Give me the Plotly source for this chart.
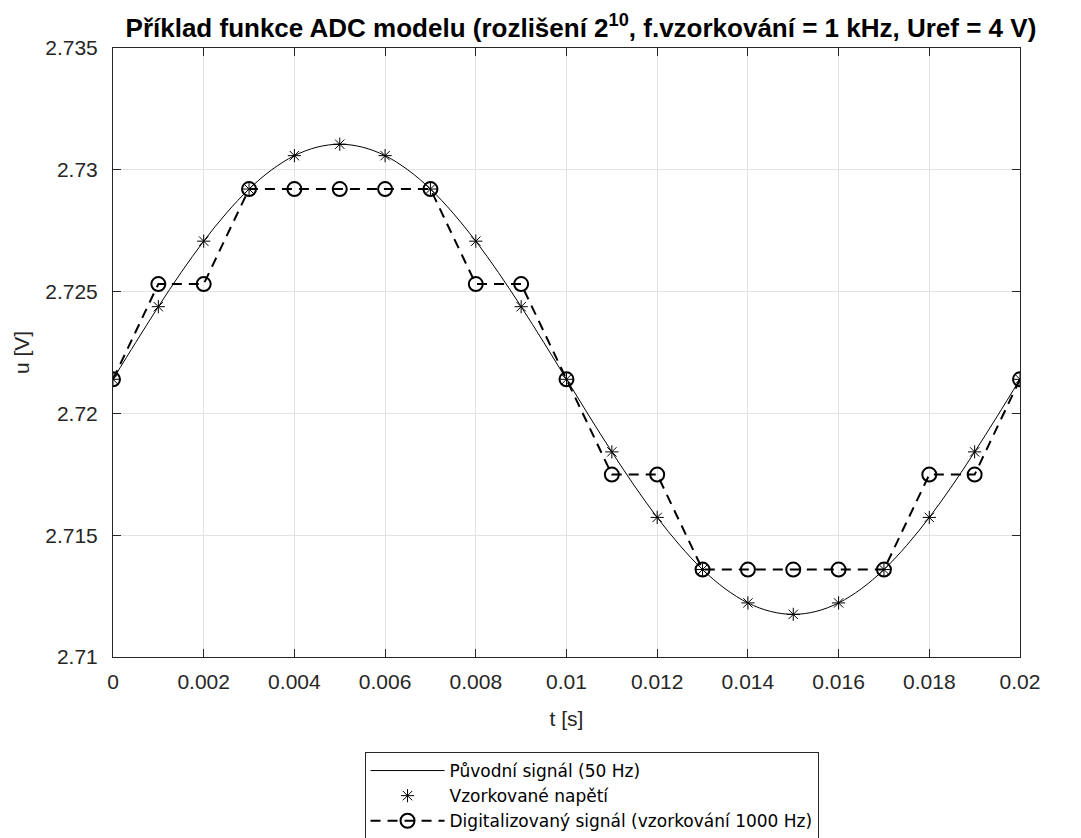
import plotly.graph_objects as go

# Original 50 Hz signal, read every 0.5 ms
t_curve = [i * 0.0005 for i in range(41)]
u_curve = [2.72140, 2.72291, 2.72438, 2.72578, 2.72707, 2.72822, 2.72921, 2.73000, 2.73058, 2.73093,
           2.73105, 2.73093, 2.73058, 2.73000, 2.72921, 2.72822, 2.72707, 2.72578, 2.72438, 2.72291,
           2.72140, 2.71989, 2.71842, 2.71702, 2.71573, 2.71458, 2.71359, 2.71280, 2.71222, 2.71187,
           2.71175, 2.71187, 2.71222, 2.71280, 2.71359, 2.71458, 2.71573, 2.71702, 2.71842, 2.71989,
           2.72140]

# Samples every 1 ms
t_samp = [i * 0.001 for i in range(21)]
u_samp = [2.72140, 2.72438, 2.72707, 2.72921, 2.73058, 2.73105, 2.73058, 2.72921, 2.72707, 2.72438,
          2.72140, 2.71842, 2.71573, 2.71359, 2.71222, 2.71175, 2.71222, 2.71359, 2.71573, 2.71842,
          2.72140]

u_dig = [2.72140, 2.72531, 2.72531, 2.72921, 2.72921, 2.72921, 2.72921, 2.72921, 2.72531, 2.72531,
         2.72140, 2.71749, 2.71749, 2.71359, 2.71359, 2.71359, 2.71359, 2.71359, 2.71749, 2.71749,
         2.72140]

x_ticks = [0, 0.002, 0.004, 0.006, 0.008, 0.01, 0.012, 0.014, 0.016, 0.018, 0.02]
x_ticklabels = ["0", "0.002", "0.004", "0.006", "0.008", "0.01", "0.012", "0.014", "0.016", "0.018", "0.02"]
y_ticks = [2.71, 2.715, 2.72, 2.725, 2.73, 2.735]
y_ticklabels = ["2.71", "2.715", "2.72", "2.725", "2.73", "2.735"]

FONT = "Liberation Sans, Arial, sans-serif"
LEG_FONT = "DejaVu Sans, Liberation Sans, sans-serif"
AX = "#262626"

fig = go.Figure()
fig.add_trace(go.Scatter(x=t_curve, y=u_curve, mode="lines", line=dict(color="black", width=1, shape="spline"),
                         name="Původní signál (50 Hz)"))
fig.add_trace(go.Scatter(x=t_samp, y=u_samp, mode="markers",
                         marker=dict(symbol="asterisk-open", size=11, color="black", line=dict(width=1, color="black")),
                         name="Vzorkované napětí"))
fig.add_trace(go.Scatter(x=t_samp, y=u_dig, mode="lines+markers",
                         line=dict(color="black", width=2, dash="10px,7px"),
                         marker=dict(symbol="circle-open", size=14, color="black", line=dict(width=2, color="black")),
                         name="Digitalizovaný signál (vzorkování 1000 Hz)"))

axis_common = dict(showline=True, linecolor=AX, linewidth=1, mirror="ticks", ticks="inside", ticklen=8,
                   tickcolor=AX, showgrid=True, gridcolor="#e3e3e3", gridwidth=1, zeroline=False,
                   automargin=False, tickangle=0, tickfont=dict(family=FONT, size=21, color=AX))

fig.update_xaxes(range=[0, 0.02], tickvals=x_ticks, ticktext=x_ticklabels, ticklabelstandoff=6,
                 title=dict(text="t [s]", font=dict(family=FONT, size=21, color=AX), standoff=19),
                 **axis_common)
fig.update_yaxes(range=[2.71, 2.735], tickvals=y_ticks, ticktext=y_ticklabels, ticklabelstandoff=10,
                 title=dict(text="u [V]", font=dict(family=FONT, size=21, color=AX), standoff=9),
                 **axis_common)

fig.update_layout(
    width=1081, height=838,
    margin=dict(l=105, r=69, t=40, b=189, autoexpand=False),
    paper_bgcolor="white", plot_bgcolor="white",
    title=dict(text="<b>Příklad funkce ADC modelu (rozlišení 2<sup>10</sup>, f.vzorkování = 1 kHz, Uref = 4 V)</b>",
               xref="container", yref="container",
               x=0.530, xanchor="center", y=0.976, yanchor="middle",
               font=dict(family=FONT, size=26, color="black")),
    legend=dict(x=0.5276, xanchor="center", y=-0.156, yanchor="top",
                bgcolor="white", bordercolor=AX, borderwidth=1, font=dict(family=LEG_FONT, size=17, color="black"),
                tracegroupgap=0, itemwidth=74),
    showlegend=True,
)

fig.write_html("out.html")
